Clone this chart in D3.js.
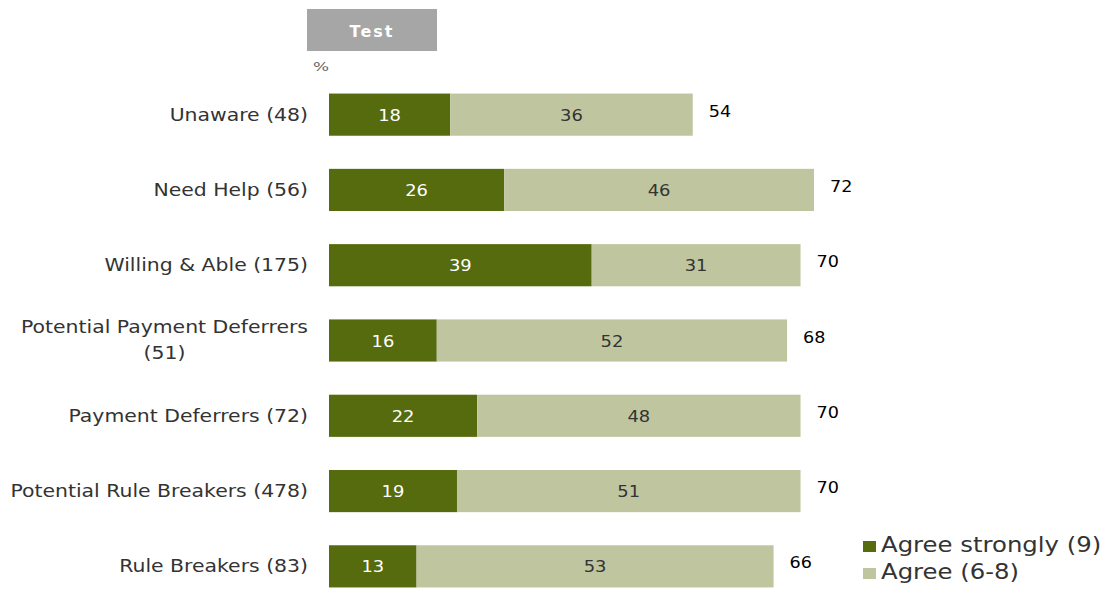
<!DOCTYPE html>
<html>
<head>
<meta charset="utf-8">
<script src="https://cdn.jsdelivr.net/npm/d3@7"></script>
<style>
  html, body { margin: 0; padding: 0; background: #fff; }
  svg { display: block; }
</style>
</head>
<body>
<svg id="chart" width="1109" height="590"></svg>
<script>
// Segment labels (each label may span two lines)
const categories = [
  ["Unaware (48)"],
  ["Need Help (56)"],
  ["Willing & Able (175)"],
  ["Potential Payment Deferrers", "(51)"],
  ["Payment Deferrers (72)"],
  ["Potential Rule Breakers (478)"],
  ["Rule Breakers (83)"]
];
const agreeStrongly = [18, 26, 39, 16, 22, 19, 13];
const agree = [36, 46, 31, 52, 48, 51, 53];
const totals = [54, 72, 70, 68, 70, 70, 66];
const seriesNames = ["Agree strongly (9)", "Agree (6-8)"];
const colors = ["#556b0d", "#bfc69f"];

const svg = d3.select("#chart");
const font = "DejaVu Sans, Verdana, sans-serif";
const wide = 1.2; // horizontal stretch of the row labels

const x = d3.scaleLinear().domain([0, 72]).range([329, 814]);
const y = d3.scaleBand()
  .domain(d3.range(categories.length))
  .range([77, 604])
  .paddingInner(0.44)
  .paddingOuter(0.22);

// Header tab
svg.append("rect").attr("x", 307).attr("y", 9).attr("width", 130).attr("height", 42).attr("fill", "#a6a6a6");
svg.append("text").attr("x", 372).attr("y", 37).attr("text-anchor", "middle")
  .attr("font-family", font).attr("font-weight", "bold")
  .attr("font-size", 16).attr("letter-spacing", 2).attr("fill", "#fff").text("Test");
svg.append("text").attr("transform", "translate(313,71) scale(1.3,1)")
  .attr("font-family", font)
  .attr("font-size", 13).attr("fill", "#666").text("%");

const rows = svg.append("g").selectAll("g")
  .data(categories.map((c, i) => ({ c, i, s: agreeStrongly[i], a: agree[i], t: totals[i] })))
  .join("g");

rows.append("rect")
  .attr("x", d => x(0)).attr("y", d => y(d.i))
  .attr("width", d => x(d.s) - x(0)).attr("height", y.bandwidth())
  .attr("fill", colors[0]);
rows.append("rect")
  .attr("x", d => x(d.s)).attr("y", d => y(d.i))
  .attr("width", d => x(d.s + d.a) - x(d.s)).attr("height", y.bandwidth())
  .attr("fill", colors[1]);

const cy = d => y(d.i) + y.bandwidth() / 2;

rows.append("text")
  .attr("transform", d => `translate(${(x(0) + x(d.s)) / 2},${cy(d) + 6}) scale(1.12,1)`)
  .attr("text-anchor", "middle").attr("font-family", font).attr("font-size", 16)
  .attr("fill", "#fff").text(d => d.s);
rows.append("text")
  .attr("transform", d => `translate(${(x(d.s) + x(d.s + d.a)) / 2},${cy(d) + 6}) scale(1.12,1)`)
  .attr("text-anchor", "middle").attr("font-family", font).attr("font-size", 16)
  .attr("fill", "#333").text(d => d.a);
rows.append("text")
  .attr("transform", d => `translate(${x(d.t) + 16},${cy(d) + 2}) scale(1.1,1)`)
  .attr("font-family", font).attr("font-size", 16)
  .attr("fill", "#000").text(d => d.t);

// Category labels, right-aligned against the bars
rows.each(function (d) {
  const g = d3.select(this);
  const c = cy(d);
  if (d.c.length === 1) {
    g.append("text")
      .attr("transform", `translate(308,${c + 6}) scale(${wide},1)`)
      .attr("text-anchor", "end").attr("font-family", font).attr("font-size", 17)
      .attr("fill", "#333").text(d.c[0]);
  } else {
    const first = g.append("text")
      .attr("transform", `translate(308,${c - 8}) scale(${wide},1)`)
      .attr("text-anchor", "end").attr("font-family", font).attr("font-size", 17)
      .attr("fill", "#333").text(d.c[0]);
    const w = first.node().getComputedTextLength() * wide;
    g.append("text")
      .attr("transform", `translate(${308 - w / 2},${c + 18}) scale(${wide},1)`)
      .attr("text-anchor", "middle").attr("font-family", font).attr("font-size", 17)
      .attr("fill", "#333").text(d.c[1]);
  }
});

// Legend
const legend = svg.append("g").selectAll("g").data(seriesNames).join("g")
  .attr("transform", (d, i) => `translate(863, ${541 + i * 27})`);
legend.append("rect").attr("x", 0).attr("y", 0).attr("width", 13).attr("height", 11)
  .attr("fill", (d, i) => colors[i]);
legend.append("text").attr("transform", "translate(18,11) scale(1.16,1)")
  .attr("font-family", font).attr("font-size", 21).attr("fill", "#333")
  .text(d => d);
</script>
</body>
</html>
